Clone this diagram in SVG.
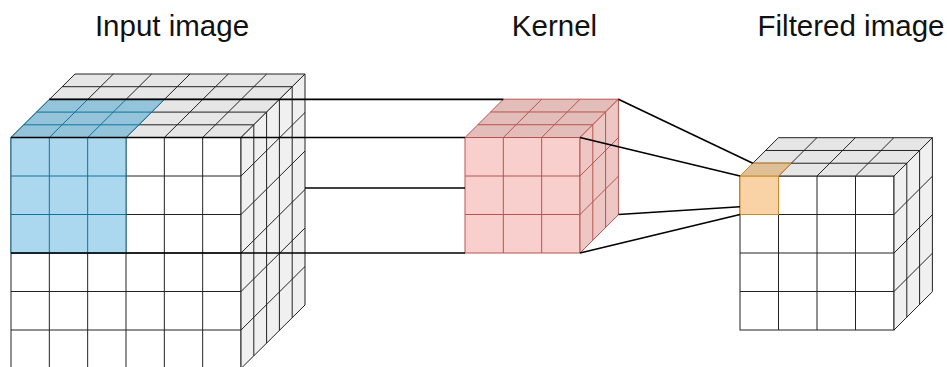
<svg xmlns="http://www.w3.org/2000/svg" width="947" height="367" viewBox="0 0 947 367">
  <style>
    .lbl { font-family: "Liberation Sans", Arial, Helvetica, sans-serif; font-size: 29.5px; fill: #111; text-anchor: middle; }
    .face { fill: #ffffff; stroke: #222; stroke-width: 1; }
    .top { fill: #e6e6e6; stroke: #222; stroke-width: 1; stroke-linejoin: round; }
    .side { fill: #f0f0f0; stroke: #222; stroke-width: 1; stroke-linejoin: round; }
    .grid { fill: none; stroke: #222; stroke-width: 1; }
    .b-front { fill: #abd8ee; stroke: #10739e; stroke-width: 1; }
    .b-top { fill: #93c4d9; stroke: #10739e; stroke-width: 1; stroke-linejoin: round; }
    .b-grid { fill: none; stroke: #10739e; stroke-width: 1; }
    .k-front { fill: #f8cfcc; stroke: #b85450; stroke-width: 1; }
    .k-top { fill: #e2bdba; stroke: #b85450; stroke-width: 1; stroke-linejoin: round; }
    .k-side { fill: #edc7c4; stroke: #b85450; stroke-width: 1; stroke-linejoin: round; }
    .k-grid { fill: none; stroke: #b85450; stroke-width: 1; }
    .o-front { fill: #f9d3a5; stroke: #cc8a2a; stroke-width: 1; }
    .o-top { fill: #dfbf95; stroke: #cc8a2a; stroke-width: 1; stroke-linejoin: round; }
    .conn { fill: none; stroke: #000; stroke-width: 1.6; }
  </style>

  <rect width="947" height="367" fill="#ffffff"/>

  <!-- Titles -->
  <text class="lbl" x="172" y="36">Input image</text>
  <text class="lbl" x="554.5" y="36">Kernel</text>
  <text class="lbl" x="851" y="36">Filtered image</text>

  <!-- Input volume: 6 x 6 front, 5 layers deep -->
  <g id="input-image">
    <rect class="face" x="11" y="137.5" width="230" height="231"/>
    <path class="grid" d="M49.33 137.5V368.5M87.67 137.5V368.5M126 137.5V368.5M164.33 137.5V368.5M202.67 137.5V368.5
                          M11 176H241M11 214.5H241M11 253H241M11 291.5H241M11 330H241"/>
    <polygon class="top" points="11,137.5 241,137.5 305,74 75,74"/>
    <path class="grid" d="M23.8 124.8H253.8M36.6 112.1H266.6M49.4 99.4H279.4M62.2 86.7H292.2
                          M49.33 137.5L113.33 74M87.67 137.5L151.67 74M126 137.5L190 74M164.33 137.5L228.33 74M202.67 137.5L266.67 74"/>
    <polygon class="side" points="241,137.5 305,74 305,305 241,368.5"/>
    <path class="grid" d="M253.8 124.8V355.8M266.6 112.1V343.1M279.4 99.4V330.4M292.2 86.7V317.7
                          M241 176L305 112.5M241 214.5L305 151M241 253L305 189.5M241 291.5L305 228M241 330L305 266.5"/>
    <!-- highlighted 3 x 3 x 3 receptive field -->
    <g id="receptive-field">
      <rect class="b-front" x="11" y="137.5" width="115" height="115.5"/>
      <path class="b-grid" d="M49.33 137.5V253M87.67 137.5V253M11 176H126M11 214.5H126"/>
      <polygon class="b-top" points="11,137.5 126,137.5 164.4,99.4 49.4,99.4"/>
      <path class="b-grid" d="M23.8 124.8H138.8M36.6 112.1H151.6M49.33 137.5L87.73 99.4M87.67 137.5L126.07 99.4"/>
    </g>
  </g>

  <!-- Kernel: 3 x 3 x 3 -->
  <g id="kernel">
    <rect class="k-front" x="465" y="137.5" width="115" height="115.5"/>
    <path class="k-grid" d="M503.33 137.5V253M541.67 137.5V253M465 176H580M465 214.5H580"/>
    <polygon class="k-top" points="465,137.5 580,137.5 618.4,99.2 503.4,99.2"/>
    <path class="k-grid" d="M477.8 124.73H592.8M490.6 111.97H605.6M503.33 137.5L541.73 99.2M541.67 137.5L580.07 99.2"/>
    <polygon class="k-side" points="580,137.5 618.4,99.2 618.4,214.7 580,253"/>
    <path class="k-grid" d="M592.8 124.73V240.23M605.6 111.97V227.47M580 176L618.4 137.7M580 214.5L618.4 176.2"/>
  </g>

  <!-- Output volume: 4 x 4 front, 3 layers deep -->
  <g id="filtered-image">
    <rect class="face" x="740" y="176" width="154" height="154"/>
    <path class="grid" d="M778.5 176V330M817 176V330M855.5 176V330M740 214.5H894M740 253H894M740 291.5H894"/>
    <polygon class="top" points="740,176 894,176 932.4,137.7 778.4,137.7"/>
    <path class="grid" d="M752.8 163.23H906.8M765.6 150.47H919.6M778.5 176L816.9 137.7M817 176L855.4 137.7M855.5 176L893.9 137.7"/>
    <polygon class="side" points="894,176 932.4,137.7 932.4,291.7 894,330"/>
    <path class="grid" d="M906.8 163.23V317.23M919.6 150.47V304.47M894 214.5L932.4 176.2M894 253L932.4 214.7M894 291.5L932.4 253.2"/>
    <!-- single output cell -->
    <g id="output-cell">
      <rect class="o-front" x="740" y="176" width="38.5" height="38.5"/>
      <polygon class="o-top" points="740,176 778.5,176 791.3,163.23 752.8,163.23"/>
    </g>
  </g>

  <!-- Projection lines -->
  <g id="connectors">
    <path class="conn" d="M49.4 99.4H503.4"/>
    <path class="conn" d="M11 137.5H465"/>
    <path class="conn" d="M305 188H465"/>
    <path class="conn" d="M11 253H465"/>
    <path class="conn" d="M618.4 99.2L752.8 163.2"/>
    <path class="conn" d="M580 137.5L740 176"/>
    <path class="conn" d="M618.4 214.5L740 206.7"/>
    <path class="conn" d="M580 253L740 214.5"/>
  </g>
</svg>
